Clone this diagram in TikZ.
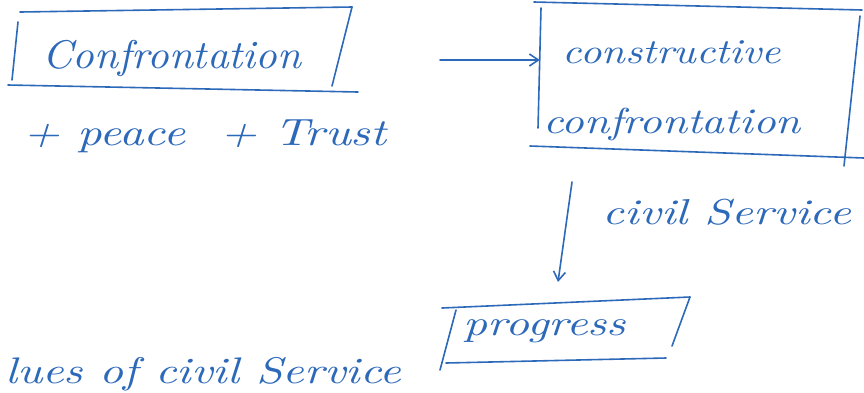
\documentclass[tikz,border=0pt]{standalone}
\usetikzlibrary{arrows.meta}
\definecolor{ink}{RGB}{45,105,185}
\tikzset{
  pen/.style={draw=ink,line width=1.6pt,line cap=round,line join=round},
  hand/.style={text=ink,font=\itshape,inner sep=0pt,anchor=center},
  arr/.style={pen,-{Straight Barb[length=9pt,width=12pt]}}
}
\begin{document}
\begin{tikzpicture}[x=1pt,y=-1pt]
\useasboundingbox (0,0) rectangle (864,392);
% box 1
\draw[pen] (20,12) -- (352,7);
\draw[pen] (18,22) -- (12,80);
\draw[pen] (8,85) -- (358,92);
\draw[pen] (352,7) -- (332,86);
\node[hand,xscale=4.25,yscale=4] (conf) at (172,58) {Confrontation};
\node[hand,xscale=4.8,yscale=3.8] (pt) at (205,136) {+ peace \ + Trust};
% box 2
\node[draw=none,minimum width=320pt,minimum height=140pt] (b2) at (700,75) {};
\draw[pen] (534,2) -- (862,10);
\draw[pen] (541,8) -- (538,128);
\draw[pen] (530,146) -- (864,158);
\draw[pen] (860,16) -- (844,166);
\node[hand,xscale=4.2,yscale=3.5] (cons) at (672,52) {constructive};
\node[hand,xscale=4.45,yscale=3.6] (conf2) at (672,124) {confrontation};
\coordinate (a1) at (440,60);
\draw[arr] (a1) -- (b2.west |- a1);
% vertical arrow
\coordinate (v1) at (572,182);
\coordinate (v2) at (558,282);
\draw[arr] (v1) -- (v2);
\node[hand,xscale=4.75,yscale=3.6] (cs) at (727,212) {civil Service};
% box 3
\draw[pen] (442,308) -- (690,297);
\draw[pen] (690,297) -- (672,346);
\draw[pen] (446,363) -- (666,358);
\draw[pen] (456,310) -- (440,370);
\node[hand,xscale=4.7,yscale=3.6] (prog) at (545,331) {progress};
% bottom text
\node[hand,xscale=4.7,yscale=3.7] (val) at (203,374) {lues of civil Service};
\end{tikzpicture}
\end{document}
